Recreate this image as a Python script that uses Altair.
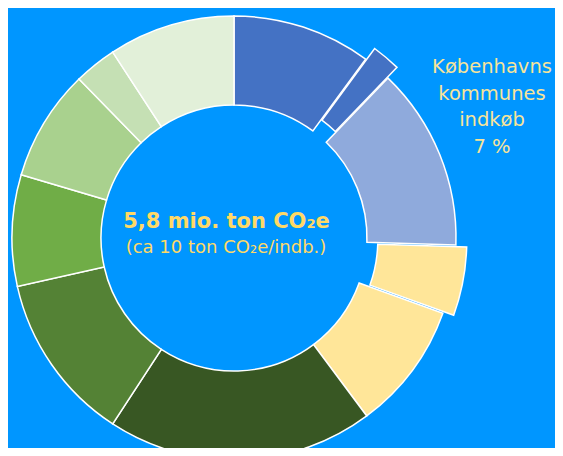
import math
import altair as alt
import pandas as pd

# ---- data (shares of total, percent, clockwise from 12 o'clock) ----
categories = [
    "Segment 1", "Københavns kommunes indkøb", "Segment 3", "Segment 4",
    "Segment 5", "Segment 6", "Segment 7", "Segment 8", "Segment 9",
    "Segment 10", "Segment 11",
]
values = [10.1, 2.1, 13.3, 5.0, 9.3, 19.4, 12.3, 8.1, 8.1, 3.1, 9.2]
colors = [
    "#4472C4", "#4472C4", "#8FAADC", "#FFE699", "#FFE699",
    "#385723", "#548235", "#70AD47", "#A9D18E", "#C5E0B4", "#E2F0D9",
]
exploded = [False, True, False, True, False, False, False, False, False, False, False]

center_line1 = "5,8 mio. ton CO₂e"
center_line2 = "(ca 10 ton CO₂e/indb.)"
callout_lines = ["Københavns", "kommunes", "indkøb", "7 %"]

# ---- layout / style ----
BG = "#0096FF"
FONT = "DejaVu Sans"
CX, CY = 226, 230
R_IN, R_OUT = 133, 222
W, H = 547, 440

df = pd.DataFrame({"cat": categories, "value": values, "color": colors, "exp": exploded})
total = df["value"].sum()
df["end"] = df["value"].cumsum()
df["start"] = df["end"] - df["value"]
df["idx"] = range(len(df))

theta_scale = alt.Scale(domain=[0, total], range=[0, 2 * math.pi])


def arc_layer(sub, dist=0.0):
    if dist:
        mid = (sub["start"].iloc[0] + sub["end"].iloc[0]) / 2 / total * 2 * math.pi
        x = CX + dist * math.sin(mid)
        y = CY - dist * math.cos(mid)
    else:
        x, y = CX, CY
    return alt.Chart(sub).mark_arc(
        innerRadius=R_IN, outerRadius=R_OUT, x=x, y=y,
        stroke="white", strokeWidth=1.5,
    ).encode(
        theta=alt.Theta("start:Q", scale=theta_scale),
        theta2="end:Q",
        color=alt.Color("color:N", scale=None),
    )


sliver = arc_layer(df[df["idx"] == 1], 14)
main = arc_layer(df[~df["exp"]])
yellow = arc_layer(df[df["idx"] == 3], 11)

t1 = alt.Chart(pd.DataFrame({"t": [center_line1]})).mark_text(
    font=FONT, fontWeight="bold", fontSize=21, color="#FFD966",
    align="center", baseline="alphabetic",
).encode(text="t:N", x=alt.value(CX - 7.5), y=alt.value(220))

t2 = alt.Chart(pd.DataFrame({"t": [center_line2]})).mark_text(
    font=FONT, fontSize=18, color="#FFD966",
    align="center", baseline="alphabetic",
).encode(text="t:N", x=alt.value(CX - 8), y=alt.value(245))

callout = alt.Chart(pd.DataFrame({"t": [callout_lines]})).mark_text(
    font=FONT, fontSize=19.5, color="#F7E49A",
    align="center", baseline="alphabetic", lineHeight=26.5,
).encode(text="t:N", x=alt.value(484), y=alt.value(65))

chart = alt.layer(sliver, main, yellow, t1, t2, callout).properties(
    width=W, height=H, background=BG, padding=0,
    autosize=alt.AutoSizeParams(type="none"),
).configure_view(stroke=None)

chart.save("out.html", embed_options={"renderer": "svg", "actions": False})
